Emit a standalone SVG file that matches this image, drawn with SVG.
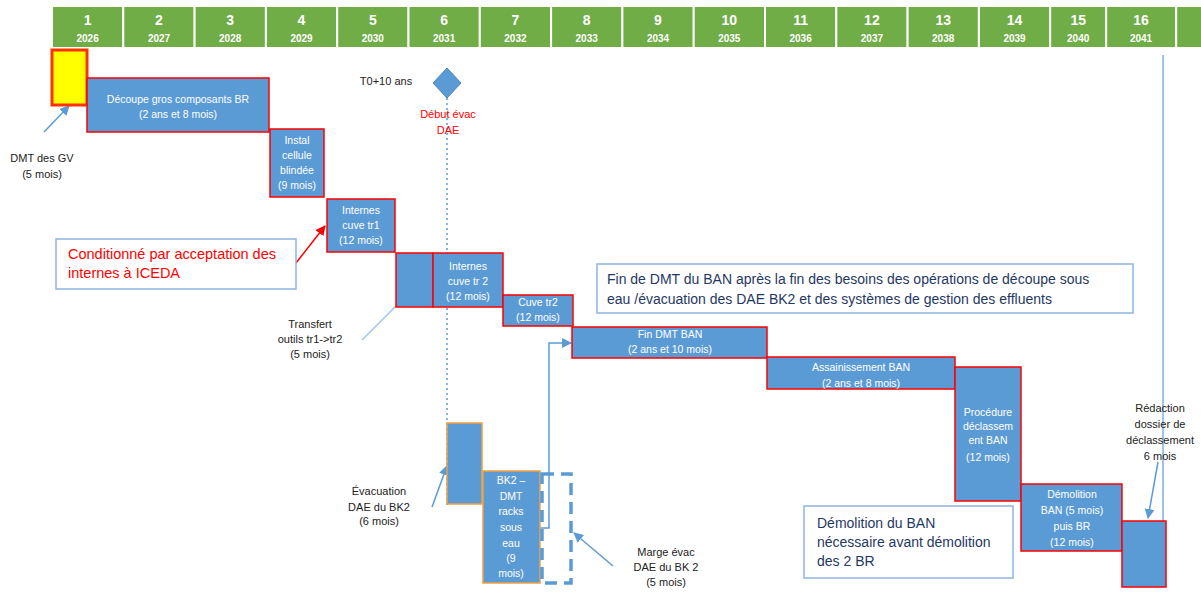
<svg xmlns="http://www.w3.org/2000/svg" width="1201" height="592" viewBox="0 0 1201 592">
<style>
.hc{fill:#70AD47;stroke:#fff;stroke-width:2}
.hn{font-family:"Liberation Sans",Arial,sans-serif;font-weight:bold;font-size:14px;fill:#fff;text-anchor:middle}
.hy{font-family:"Liberation Sans",Arial,sans-serif;font-weight:bold;font-size:10px;fill:#fff;text-anchor:middle}
.task{fill:#5B9BD5;stroke:#FF0000;stroke-width:1.5}
.task2{fill:#5B9BD5;stroke:#F0A040;stroke-width:1.5}
.bt{font-family:"Liberation Sans",Arial,sans-serif;font-size:10.5px;fill:#fff;text-anchor:middle}
.lb{font-family:"Liberation Sans",Arial,sans-serif;font-size:11px;fill:#222;text-anchor:middle}
.note{fill:#fff;stroke:#8DB4E2;stroke-width:1.5}
.nt{font-family:"Liberation Sans",Arial,sans-serif;font-size:14px;fill:#1F3864}
.rt{font-family:"Liberation Sans",Arial,sans-serif;font-size:14.5px;fill:#FF0000}
.con{fill:none;stroke:#5B9BD5;stroke-width:1.5}
</style>
<defs>
<marker id="ab" markerWidth="10" markerHeight="10" refX="9" refY="5" orient="auto" markerUnits="userSpaceOnUse"><path d="M0,0 L10,5 L0,10 z" fill="#5B9BD5"/></marker>
<marker id="ar" markerWidth="10" markerHeight="10" refX="9" refY="5" orient="auto" markerUnits="userSpaceOnUse"><path d="M0,0 L10,5 L0,10 z" fill="#FF0000"/></marker>
</defs>
<g id="header">
<rect class="hc" x="52" y="6" width="71.3" height="42"/><text class="hn" x="87.6" y="25">1</text><text class="hy" x="87.6" y="42">2026</text>
<rect class="hc" x="123.3" y="6" width="71.3" height="42"/><text class="hn" x="159" y="25">2</text><text class="hy" x="159" y="42">2027</text>
<rect class="hc" x="194.6" y="6" width="71.3" height="42"/><text class="hn" x="230.2" y="25">3</text><text class="hy" x="230.2" y="42">2028</text>
<rect class="hc" x="265.9" y="6" width="71.3" height="42"/><text class="hn" x="301.5" y="25">4</text><text class="hy" x="301.5" y="42">2029</text>
<rect class="hc" x="337.2" y="6" width="71.3" height="42"/><text class="hn" x="372.8" y="25">5</text><text class="hy" x="372.8" y="42">2030</text>
<rect class="hc" x="408.5" y="6" width="71.3" height="42"/><text class="hn" x="444.1" y="25">6</text><text class="hy" x="444.1" y="42">2031</text>
<rect class="hc" x="479.8" y="6" width="71.3" height="42"/><text class="hn" x="515.4" y="25">7</text><text class="hy" x="515.4" y="42">2032</text>
<rect class="hc" x="551.1" y="6" width="71.3" height="42"/><text class="hn" x="586.7" y="25">8</text><text class="hy" x="586.7" y="42">2033</text>
<rect class="hc" x="622.4" y="6" width="71.3" height="42"/><text class="hn" x="658" y="25">9</text><text class="hy" x="658" y="42">2034</text>
<rect class="hc" x="693.7" y="6" width="71.3" height="42"/><text class="hn" x="729.3" y="25">10</text><text class="hy" x="729.3" y="42">2035</text>
<rect class="hc" x="765" y="6" width="71.3" height="42"/><text class="hn" x="800.6" y="25">11</text><text class="hy" x="800.6" y="42">2036</text>
<rect class="hc" x="836.3" y="6" width="71.3" height="42"/><text class="hn" x="871.9" y="25">12</text><text class="hy" x="871.9" y="42">2037</text>
<rect class="hc" x="907.6" y="6" width="71.3" height="42"/><text class="hn" x="943.2" y="25">13</text><text class="hy" x="943.2" y="42">2038</text>
<rect class="hc" x="978.9" y="6" width="71.3" height="42"/><text class="hn" x="1014.5" y="25">14</text><text class="hy" x="1014.5" y="42">2039</text>
<rect class="hc" x="1050.2" y="6" width="56" height="42"/><text class="hn" x="1078.2" y="25">15</text><text class="hy" x="1078.2" y="42">2040</text>
<rect class="hc" x="1106.2" y="6" width="70" height="42"/><text class="hn" x="1141" y="25">16</text><text class="hy" x="1141" y="42">2041</text>
<rect class="hc" x="1176.2" y="6" width="30" height="42"/>
</g>
<g id="connectors">
<line x1="447" y1="98" x2="447" y2="505" stroke="#5B9BD5" stroke-width="1.5" stroke-dasharray="2,3"/>
<line x1="1163" y1="55" x2="1163" y2="521" stroke="#9DC3E6" stroke-width="2"/>
<line class="con" x1="44" y1="132" x2="69" y2="106" marker-end="url(#ab)"/>
<line x1="296" y1="263" x2="325" y2="226" stroke="#FF0000" stroke-width="1.5" marker-end="url(#ar)"/>
<line x1="362" y1="340" x2="396" y2="306" stroke="#9DC3E6" stroke-width="1.5"/>
<line class="con" x1="432" y1="507" x2="447" y2="466" marker-end="url(#ab)"/>
<path class="con" d="M540,528 H549 V343 H571" marker-end="url(#ab)"/>
<line class="con" x1="613" y1="566" x2="574" y2="533" marker-end="url(#ab)"/>
<line class="con" x1="1158" y1="462" x2="1148" y2="518" marker-end="url(#ab)"/>
</g>
<g id="n-dmt-gv">
<rect x="52" y="50" width="35" height="55" fill="#FFFF00" stroke="#FF3300" stroke-width="3"/>
<text class="lb" x="42" y="162">DMT des GV</text><text class="lb" x="42" y="178">(5 mois)</text>
</g>
<g id="n-decoupe">
<rect class="task" x="87" y="78" width="182" height="54"/>
<text class="bt" x="178" y="103">Découpe gros composants BR</text><text class="bt" x="178" y="118">(2 ans et 8 mois)</text>
</g>
<g id="n-instal">
<rect class="task" x="270" y="129" width="54" height="68"/>
<text class="bt" x="297" y="144">Instal</text><text class="bt" x="297" y="159">cellule</text><text class="bt" x="297" y="174">blindée</text><text class="bt" x="297" y="189">(9 mois)</text>
</g>
<g id="n-internes-tr1">
<rect class="task" x="327" y="199" width="68" height="53"/>
<text class="bt" x="361" y="214">Internes</text><text class="bt" x="361" y="229">cuve tr1</text><text class="bt" x="361" y="244">(12 mois)</text>
</g>
<g id="n-transfert">
<rect class="task" x="396" y="253" width="37" height="54"/>
<text class="lb" x="310" y="328">Transfert</text><text class="lb" x="310" y="343">outils tr1-&gt;tr2</text><text class="lb" x="310" y="358">(5 mois)</text>
</g>
<g id="n-internes-tr2">
<rect class="task" x="433" y="253" width="70" height="54"/>
<text class="bt" x="468" y="270">Internes</text><text class="bt" x="468" y="285">cuve tr 2</text><text class="bt" x="468" y="300">(12 mois)</text>
</g>
<g id="n-cuve-tr2">
<rect class="task" x="503" y="295" width="70" height="31"/>
<text class="bt" x="538" y="306">Cuve tr2</text><text class="bt" x="538" y="321">(12 mois)</text>
</g>
<g id="n-fin-dmt-ban">
<rect class="task" x="572" y="327" width="195" height="31"/>
<text class="bt" x="670" y="338">Fin DMT BAN</text><text class="bt" x="670" y="353">(2 ans et 10 mois)</text>
</g>
<g id="n-assainissement">
<rect class="task" x="767" y="357" width="188" height="32"/>
<text class="bt" x="861" y="371">Assainissement BAN</text><text class="bt" x="861" y="387">(2 ans et 8 mois)</text>
</g>
<g id="n-procedure">
<rect class="task" x="955" y="367" width="66" height="134"/>
<text class="bt" x="988" y="416">Procédure</text><text class="bt" x="988" y="430">déclassem</text><text class="bt" x="988" y="444">ent BAN</text><text class="bt" x="988" y="461">(12 mois)</text>
</g>
<g id="n-demolition">
<rect class="task" x="1021" y="484" width="101" height="67"/>
<text class="bt" x="1072" y="498">Démolition</text><text class="bt" x="1072" y="514">BAN (5 mois)</text><text class="bt" x="1072" y="530">puis BR</text><text class="bt" x="1072" y="546">(12 mois)</text>
</g>
<g id="n-redaction">
<rect class="task" x="1122" y="521" width="44" height="66"/>
<text class="lb" x="1160" y="412">Rédaction</text><text class="lb" x="1160" y="428">dossier de</text><text class="lb" x="1160" y="444">déclassement</text><text class="lb" x="1160" y="460">6 mois</text>
</g>
<g id="n-jalon">
<polygon points="447,68 461,83 447,98 433,83" fill="#5B9BD5" stroke="#4A86C0" stroke-width="1"/>
<text class="lb" x="386" y="85" fill="#000">T0+10 ans</text>
<text class="lb" x="448" y="118" style="fill:#FF0000">Début évac</text><text class="lb" x="448" y="134" style="fill:#FF0000">DAE</text>
</g>
<g id="n-evacuation">
<rect class="task2" x="447" y="423" width="35" height="81"/>
<text class="lb" x="379" y="495">Évacuation</text><text class="lb" x="379" y="511">DAE du BK2</text><text class="lb" x="379" y="525">(6 mois)</text>
</g>
<g id="n-bk2">
<rect class="task2" x="483" y="471" width="57" height="112"/>
<text class="bt" x="511" y="484">BK2 –</text><text class="bt" x="511" y="500">DMT</text><text class="bt" x="511" y="515">racks</text><text class="bt" x="511" y="531">sous</text><text class="bt" x="511" y="547">eau</text><text class="bt" x="511" y="562">(9</text><text class="bt" x="511" y="577">mois)</text>
</g>
<g id="n-marge">
<rect x="542" y="474" width="29" height="109" fill="none" stroke="#5B9BD5" stroke-width="3.5" stroke-dasharray="12,7"/>
<text class="lb" x="666" y="556">Marge évac</text><text class="lb" x="666" y="571">DAE du BK 2</text><text class="lb" x="666" y="586">(5 mois)</text>
</g>
<g id="n-note-iceda">
<rect class="note" x="56" y="239" width="240" height="50"/>
<text class="rt" x="68" y="259">Conditionné par acceptation des</text><text class="rt" x="68" y="278">internes à ICEDA</text>
</g>
<g id="n-note-fin-dmt">
<rect class="note" x="597" y="264" width="536" height="49"/>
<text class="nt" x="607" y="284">Fin de DMT du BAN après la fin des besoins des opérations de découpe sous</text>
<text class="nt" x="607" y="304">eau /évacuation des DAE BK2 et des systèmes de gestion des effluents</text>
</g>
<g id="n-note-demolition">
<rect class="note" x="804" y="506" width="209" height="72"/>
<text class="nt" x="817" y="528">Démolition du BAN</text><text class="nt" x="817" y="547">nécessaire avant démolition</text><text class="nt" x="817" y="566">des 2 BR</text>
</g>
</svg>
